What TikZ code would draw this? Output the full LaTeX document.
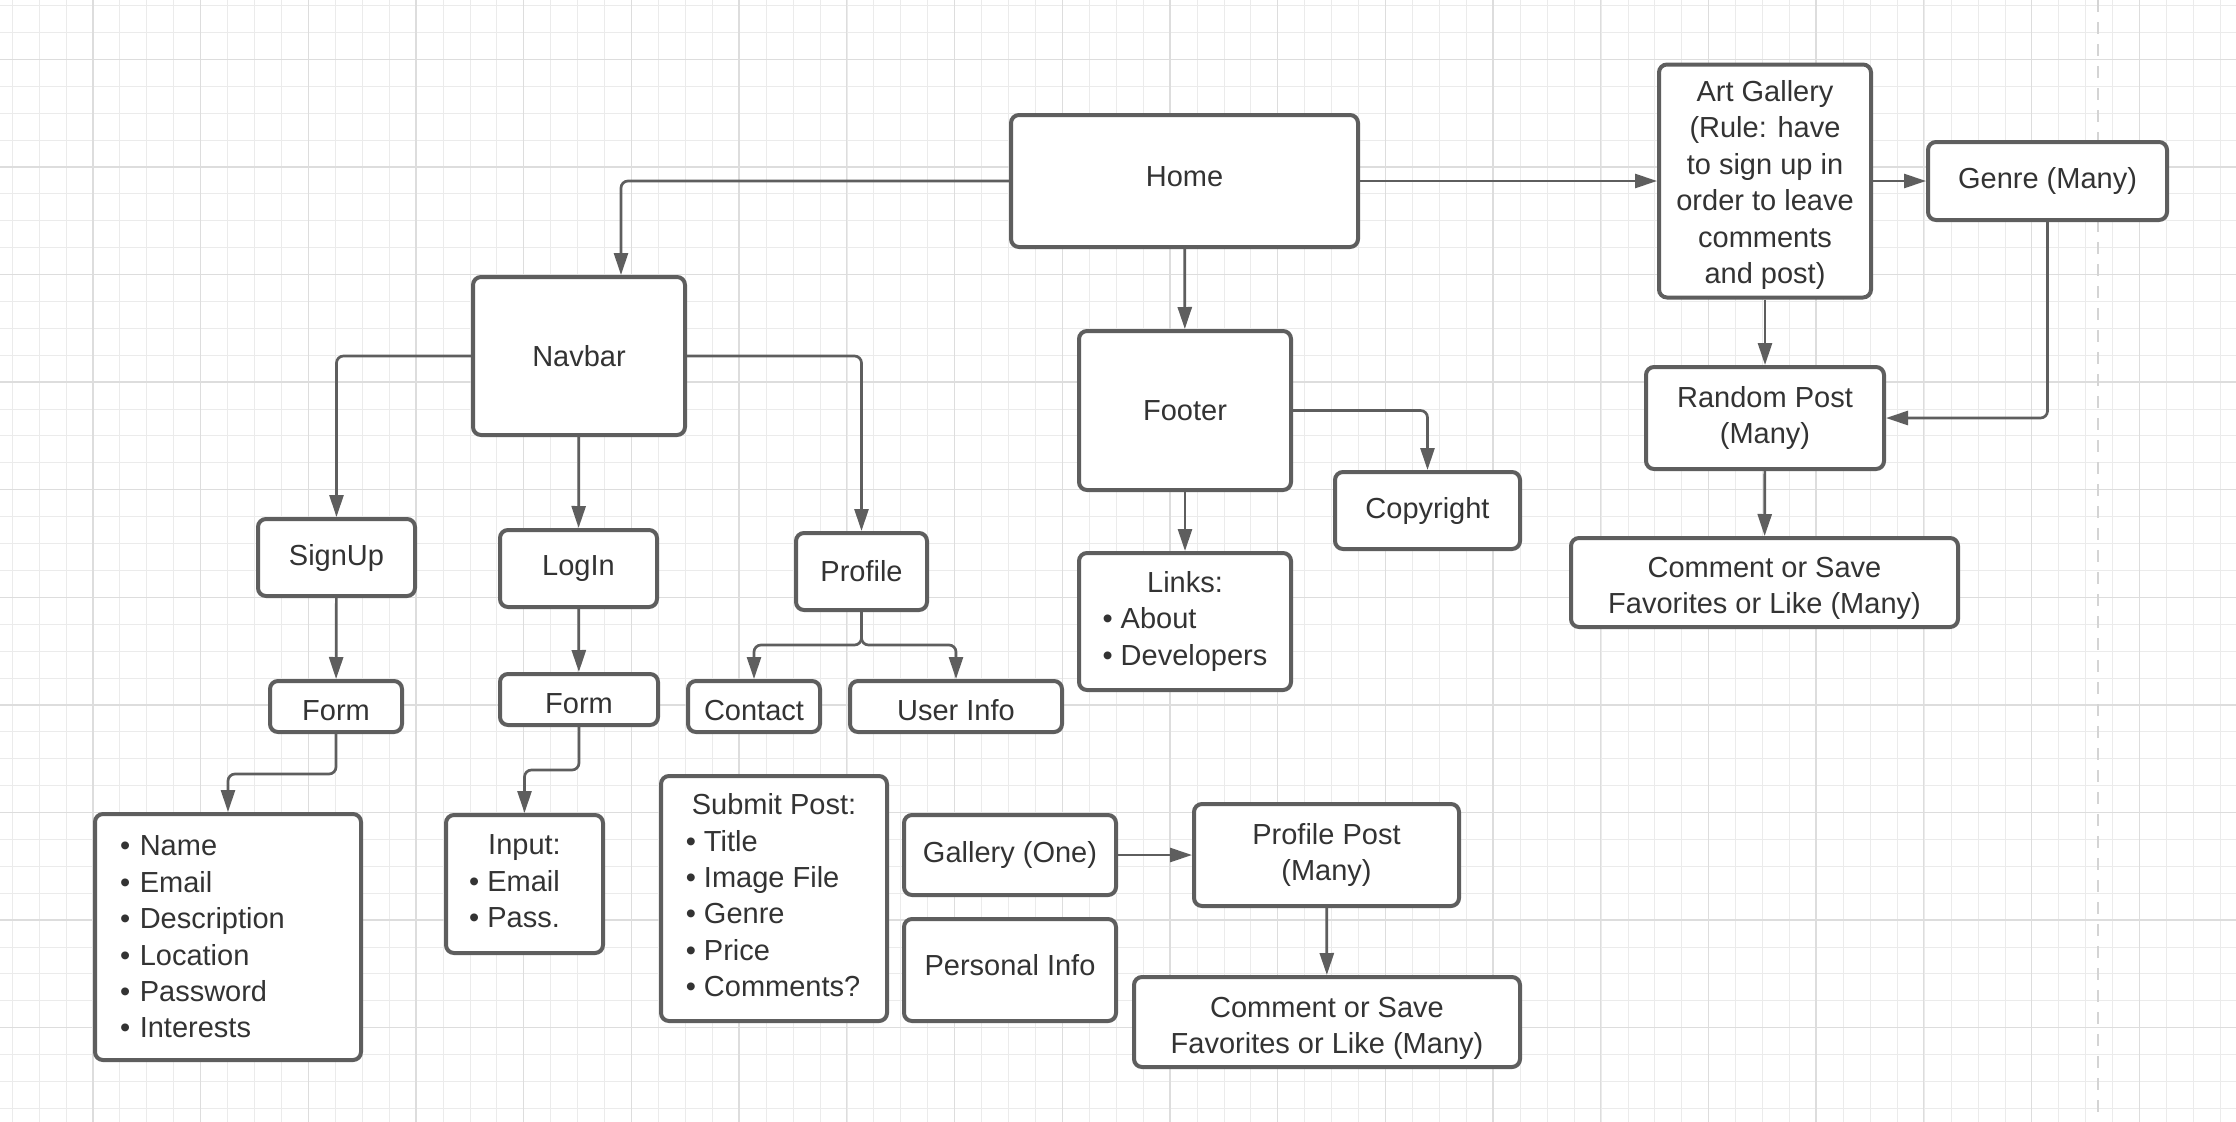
\documentclass[tikz,border=0pt]{standalone}
\usepackage{fontspec}
\setmainfont{Liberation Sans}
\usepackage{tikz}
\usetikzlibrary{arrows.meta}

\definecolor{boxline}{HTML}{5E5E5E}
\definecolor{boxtext}{HTML}{333333}
\definecolor{gridmin}{HTML}{EBEBEB}
\definecolor{gridmaj}{HTML}{DDDDDD}
\definecolor{pageline}{HTML}{D4D4D4}

\tikzset{
  box/.style={draw=boxline, line width=4pt, rounded corners=8pt, fill=white,
    text=boxtext, inner sep=0pt, align=center, font={\fontsize{29}{36.4}\selectfont}},
  link/.style={draw=boxline, line width=2.7pt, rounded corners=7pt,
    -{Triangle[length=22pt,width=14pt]}},
  gridminor/.style={draw=gridmin, line width=1pt},
  gridmajor/.style={draw=gridmaj, line width=1.3pt},
}

\begin{document}
\begin{tikzpicture}[x=1pt,y=-1pt]
  \useasboundingbox[fill=white] (0,0) rectangle (2236,1122);

  % canvas grid
  \foreach \i in {0,...,82}
    \draw[gridminor] ({12.2+26.93*\i},0) -- ({12.2+26.93*\i},1122);
  \foreach \j in {0,...,41}
    \draw[gridminor] (0,{5.5+26.9*\j}) -- (2236,{5.5+26.9*\j});
  \foreach \i in {0,...,20}
    \draw[gridmajor] ({92.9+107.7*\i},0) -- ({92.9+107.7*\i},1122);
  \foreach \j in {0,...,10}
    \draw[gridmajor] (0,{59.3+107.6*\j}) -- (2236,{59.3+107.6*\j});
  \draw[pageline, line width=2.5pt, dash pattern=on 12pt off 10pt] (2098,0) -- (2098,1122);

  % top level
  \node[box, minimum width=347pt, minimum height=132pt, text depth=9pt] (home) at (1184.5,181) {Home};
  \node[box, minimum width=212pt, minimum height=233pt, text height=211pt] (gallery) at (1765,181)
    {Art Gallery\\(Rule: have\\to sign up in\\order to leave\\comments\\and post)};
  \node[box, minimum width=239pt, minimum height=78pt] (genre) at (2047.5,181) {Genre (Many)};
  \node[box, minimum width=212pt, minimum height=158pt] (navbar) at (579,356) {Navbar};
  \node[box, minimum width=212pt, minimum height=159pt] (footer) at (1185,410.5) {Footer};
  \node[box, minimum width=185pt, minimum height=77pt] (copyright) at (1427.5,510.5) {Copyright};
  \node[box, minimum width=238pt, minimum height=102pt] (randompost) at (1765,418) {Random Post\\(Many)};
  \node[box, minimum width=387pt, minimum height=89pt, text height=69pt] (commentA) at (1764.5,582.5)
    {Comment or Save\\Favorites or Like (Many)};

  % navbar children
  \node[box, minimum width=157pt, minimum height=77pt] (signup) at (336.5,557.5) {SignUp};
  \node[box, minimum width=157pt, minimum height=77pt] (login) at (578.5,568.5) {LogIn};
  \node[box, minimum width=131pt, minimum height=77pt] (profile) at (861.5,571.5) {Profile};
  \node[box, minimum width=212pt, minimum height=137pt] (links) at (1185,621.5)
    {\begin{tabular}{@{}l@{}}\multicolumn{1}{c}{Links:}\\• About\\• Developers\end{tabular}};
  \node[box, minimum width=132pt, minimum height=51pt, text height=28pt] (signupform) at (336,706.5) {Form};
  \node[box, minimum width=158pt, minimum height=51pt, text height=28pt] (loginform) at (579,699.5) {Form};
  \node[box, minimum width=132pt, minimum height=51pt, text height=28pt] (contact) at (754,706.5) {Contact};
  \node[box, minimum width=212pt, minimum height=51pt, text height=28pt] (userinfo) at (956,706.5) {User Info};

  % bottom row
  \node[box, minimum width=266pt, minimum height=246pt, text width=216pt, align=left] (fields) at (228,937)
    {• Name\\• Email\\• Description\\• Location\\• Password\\• Interests};
  \node[box, minimum width=157pt, minimum height=138pt] (input) at (524.5,884)
    {\begin{tabular}{@{}l@{}}\multicolumn{1}{c}{Input:}\\• Email\hspace*{20pt}\\• Pass.\end{tabular}};
  \node[box, minimum width=226pt, minimum height=245pt] (submitpost) at (774,898.5)
    {\begin{tabular}{@{}l@{}}\multicolumn{1}{c}{Submit Post:}\\• Title\\• Image File\\• Genre\\• Price\\• Comments?\end{tabular}};
  \node[box, minimum width=212pt, minimum height=80pt] (galleryone) at (1010,855) {Gallery (One)};
  \node[box, minimum width=212pt, minimum height=102pt, text depth=11pt] (personal) at (1010,970) {Personal Info};
  \node[box, minimum width=265pt, minimum height=102pt] (profilepost) at (1326.5,855) {Profile Post\\(Many)};
  \node[box, minimum width=386pt, minimum height=90pt, text height=69pt] (commentB) at (1327,1022)
    {Comment or Save\\Favorites or Like (Many)};

  % connectors
  \draw[link] (home.west) -| ([xshift=42pt]navbar.north);
  \draw[link] (home.east) -- (gallery.west);
  \draw[link] (gallery.east) -- (genre.west);
  \draw[link] (home) -- (footer);
  \draw[link] (navbar.west) -| (signup.north);
  \draw[link] (navbar) -- (login);
  \draw[link] (navbar.east) -| (profile.north);
  \draw[link] (footer.east) -| (copyright.north);
  \draw[link] (footer) -- (links);
  \draw[link] (gallery) -- (randompost);
  \draw[link] (genre.south) |- (randompost.east);
  \draw[link] (randompost) -- (commentA);
  \draw[link] (signup) -- (signupform);
  \draw[link] (login) -- (loginform);
  \draw[link] (profile.south) -- ++(0,33) -| (contact.north);
  \draw[link] (profile.south) -- ++(0,33) -| (userinfo.north);
  \draw[link] (signupform.south) -- ++(0,40) -| (fields.north);
  \draw[link] (loginform.south) -- ++(0,43) -| (input.north);
  \draw[link] (galleryone.east) -- (profilepost.west);
  \draw[link] (profilepost) -- (commentB);
\end{tikzpicture}
\end{document}
